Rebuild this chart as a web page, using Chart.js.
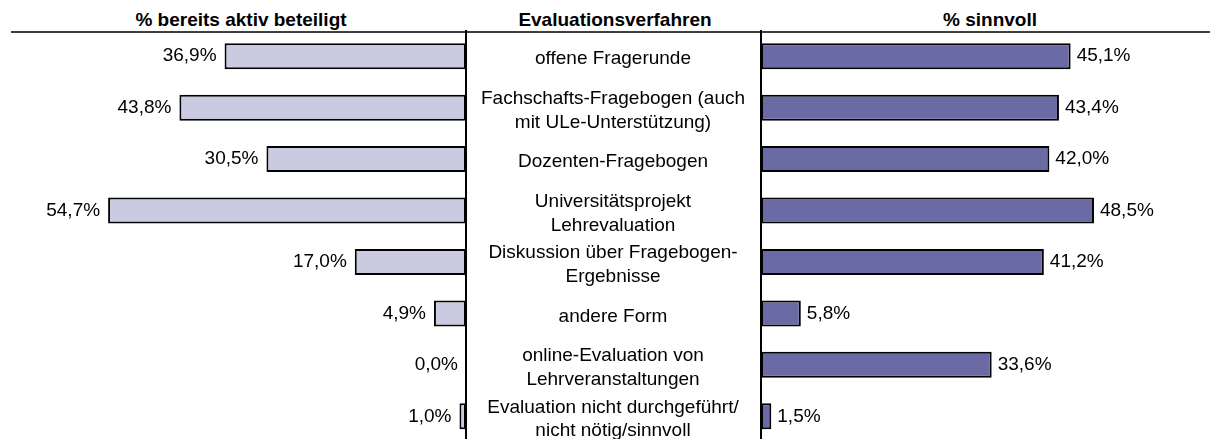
<!DOCTYPE html>
<html>
<head>
<meta charset="utf-8">
<script src="https://cdn.jsdelivr.net/npm/chart.js@4/dist/chart.umd.min.js"></script>
<style>
  body { margin: 0; background: #fff; }
  #wrap { position: relative; width: 1210px; height: 439px; overflow: hidden; }
  canvas { position: absolute; top: 0; }
  .head { position: absolute; top: 10px; font: bold 19px "Liberation Sans", Arial, sans-serif; line-height: 19px; text-align: center; white-space: nowrap; }
</style>
</head>
<body>
<div id="wrap">
  <div class="head" style="left:91px;width:300px">% bereits aktiv beteiligt</div>
  <div class="head" style="left:465px;width:300px">Evaluationsverfahren</div>
  <div class="head" style="left:840px;width:300px">% sinnvoll</div>
  <canvas id="left" width="760" height="442" style="left:0"></canvas>
  <canvas id="right" width="450" height="442" style="left:760px"></canvas>
</div>
<script>
var categories = [
  "offene Fragerunde",
  ["Fachschafts-Fragebogen (auch", "mit ULe-Unterstützung)"],
  "Dozenten-Fragebogen",
  ["Universitätsprojekt", "Lehrevaluation"],
  ["Diskussion über Fragebogen-", "Ergebnisse"],
  "andere Form",
  ["online-Evaluation von", "Lehrveranstaltungen"],
  ["Evaluation nicht durchgeführt/", "nicht nötig/sinnvoll"]
];
var aktiv = [36.9, 43.8, 30.5, 54.7, 17.0, 4.9, 0.0, 1.0];
var sinnvoll = [45.1, 43.4, 42.0, 48.5, 41.2, 5.8, 33.6, 1.5];

var fontName = '"Liberation Sans", Arial, sans-serif';

function fmt(v) {
  return v.toFixed(1).replace('.', ',') + '%';
}

// percent labels next to the bar ends
var valueLabels = {
  id: 'valueLabels',
  afterDatasetsDraw: function(chart, args, opts) {
    var ctx = chart.ctx;
    var meta = chart.getDatasetMeta(0);
    var data = chart.data.datasets[0].data;
    ctx.save();
    ctx.font = '19px ' + fontName;
    ctx.fillStyle = '#000';
    ctx.textBaseline = 'middle';
    ctx.textAlign = opts.side == 'left' ? 'right' : 'left';
    meta.data.forEach(function(el, i) {
      var x = opts.side == 'left' ? el.x - 8 : el.x + 6;
      ctx.fillText(fmt(data[i]), x, el.y);
    });
    ctx.restore();
  }
};

// category names in the middle column (y axis area of the left chart)
var centerLabels = {
  id: 'centerLabels',
  afterDraw: function(chart) {
    var s = chart.scales.y;
    var ctx = chart.ctx;
    var cx = (s.left + s.right) / 2;
    ctx.save();
    ctx.font = '19px ' + fontName;
    ctx.fillStyle = '#000';
    ctx.textAlign = 'center';
    ctx.textBaseline = 'middle';
    chart.data.labels.forEach(function(lab, i) {
      var lines = Array.isArray(lab) ? lab : [lab];
      var y = s.getPixelForValue(i) + 3 - (lines.length - 1) * 23.5 / 2;
      lines.forEach(function(t, j) {
        ctx.fillText(t, cx, y + j * 23.5);
      });
    });
    ctx.restore();
  }
};

// thin rule under the headers
var topRule = {
  id: 'topRule',
  afterDraw: function(chart, args, opts) {
    var ctx = chart.ctx;
    ctx.save();
    ctx.strokeStyle = '#000';
    ctx.lineWidth = 1.5;
    ctx.beginPath();
    ctx.moveTo(opts.from, 32);
    ctx.lineTo(chart.width, 32);
    ctx.stroke();
    ctx.restore();
  }
};

Chart.defaults.font.family = fontName;
Chart.defaults.color = '#000';

new Chart(document.getElementById('left'), {
  type: 'bar',
  data: {
    labels: categories,
    datasets: [{
      data: aktiv,
      backgroundColor: '#CACBE0',
      borderColor: '#000',
      borderWidth: 2,
      borderSkipped: false,
      barPercentage: 0.506,
      categoryPercentage: 1
    }]
  },
  plugins: [valueLabels, centerLabels, topRule],
  options: {
    indexAxis: 'y',
    responsive: false,
    animation: false,
    layout: { autoPadding: false, padding: { left: 8, top: 30.5, bottom: 0, right: 0 } },
    plugins: {
      legend: { display: false },
      tooltip: { enabled: false },
      valueLabels: { side: 'left' },
      topRule: { from: 11 }
    },
    scales: {
      x: { display: false, reverse: true, min: 0, max: 70 },
      y: {
        position: 'right',
        grid: { display: false },
        border: { display: true, color: '#000', width: 2 },
        ticks: { display: false },
        afterFit: function(s) { s.width = 294; }
      }
    }
  }
});

new Chart(document.getElementById('right'), {
  type: 'bar',
  data: {
    labels: categories,
    datasets: [{
      data: sinnvoll,
      backgroundColor: '#6A6AA4',
      borderColor: '#000',
      borderWidth: 2,
      borderSkipped: false,
      barPercentage: 0.506,
      categoryPercentage: 1
    }]
  },
  plugins: [valueLabels, topRule],
  options: {
    indexAxis: 'y',
    responsive: false,
    animation: false,
    layout: { autoPadding: false, padding: { left: 0, top: 30.5, bottom: 0, right: 0 } },
    plugins: {
      legend: { display: false },
      tooltip: { enabled: false },
      valueLabels: { side: 'right' },
      topRule: { from: 0 }
    },
    scales: {
      x: { display: false, min: 0, max: 65.4 },
      y: {
        position: 'left',
        grid: { display: false },
        border: { display: true, color: '#000', width: 2 },
        ticks: { display: false },
        afterFit: function(s) { s.width = 1; }
      }
    }
  }
});
</script>
</body>
</html>
